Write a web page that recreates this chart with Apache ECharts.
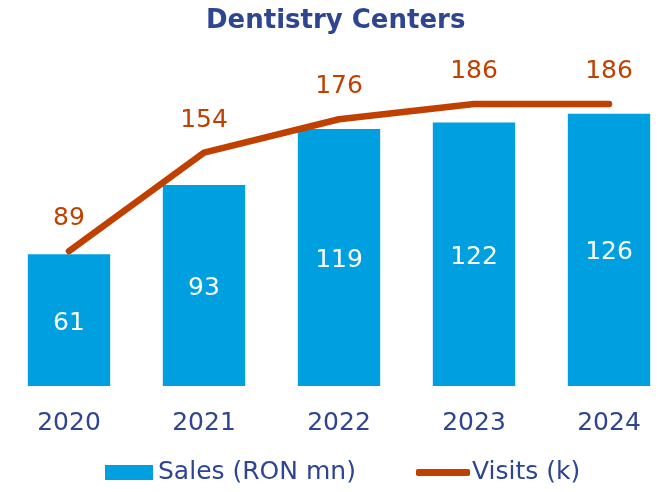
<!DOCTYPE html>
<html><head><meta charset="utf-8">
<script src="https://cdn.jsdelivr.net/npm/echarts@6/dist/echarts.min.js"></script>
<style>html,body{margin:0;padding:0;background:#fff;overflow:hidden;width:666px;height:492px}#c{width:677px;height:492px}</style>
</head><body><div id="c"></div>
<script>
const categories = ['2020', '2021', '2022', '2023', '2024'];
const sales = [61, 93, 119, 122, 126];
const visits = [89, 154, 176, 186, 186];

const FONT = 'Verdana, "DejaVu Sans", sans-serif';
const BLUE = '#009FE0';
const ORANGE = '#C04000';
const NAVY = '#2E4591';
const FS = 25;

const chart = echarts.init(document.getElementById('c'));
chart.setOption({
  animation: false,
  textStyle: { fontFamily: FONT },
  title: {
    text: 'Dentistry Centers', left: 201, top: 3,
    textStyle: { fontFamily: FONT, fontWeight: 'bold', fontSize: 26, color: NAVY }
  },
  legend: [
    {
      left: 105, top: 460, padding: 0, itemWidth: 48, itemHeight: 15,
      textStyle: { fontFamily: FONT, fontSize: FS, color: NAVY },
      data: [{ name: 'Sales (RON mn)', icon: 'rect' }]
    },
    {
      left: 416, top: 460, padding: 0, itemWidth: 54, itemHeight: 7,
      textStyle: { fontFamily: FONT, fontSize: FS, color: NAVY, padding: [0, 0, 0, -3] },
      data: [{ name: 'Visits (k)', icon: 'roundRect' }]
    }
  ],
  grid: { left: 1.5, width: 675, top: 40.4, bottom: 106 },
  xAxis: {
    type: 'category', data: categories,
    axisLine: { show: false }, axisTick: { show: false },
    axisLabel: { color: NAVY, fontSize: FS, fontFamily: FONT, margin: 25 }
  },
  yAxis: [
    { type: 'value', min: 0, max: 160, show: false, splitLine: { show: false } },
    { type: 'value', min: 0, max: 228, show: false, splitLine: { show: false } }
  ],
  series: [
    {
      name: 'Sales (RON mn)', type: 'bar', data: sales, barWidth: '61%',
      itemStyle: { color: BLUE },
      label: { show: true, position: 'inside', offset: [0, 3], color: '#fff', fontSize: FS, fontFamily: FONT }
    },
    {
      name: 'Visits (k)', type: 'line', yAxisIndex: 1, data: visits,
      symbol: 'circle', symbolSize: 0.1,
      lineStyle: { color: ORANGE, width: 6.5, cap: 'round', join: 'round' },
      itemStyle: { color: ORANGE },
      label: { show: true, position: 'top', distance: 20, color: ORANGE, fontSize: FS, fontFamily: FONT }
    }
  ]
});
</script></body></html>
